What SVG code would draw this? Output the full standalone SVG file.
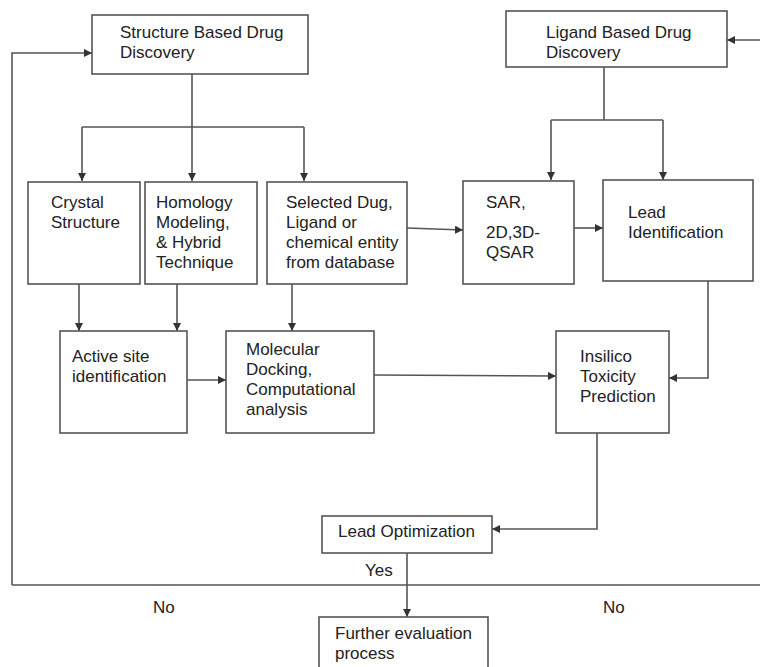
<svg xmlns="http://www.w3.org/2000/svg" width="760" height="667" viewBox="0 0 760 667">
<defs>
<marker id="arr" markerUnits="userSpaceOnUse" markerWidth="9" markerHeight="8" refX="8" refY="4" orient="auto">
<path d="M0,0 L8,4 L0,8 z" fill="#333"/>
</marker>
<style>
.box{fill:#fff;stroke:#555;stroke-width:1.6}
.ln{fill:none;stroke:#555;stroke-width:1.6}
.ar{fill:none;stroke:#555;stroke-width:1.6;marker-end:url(#arr)}
text{font-family:"Liberation Sans",Arial,sans-serif;font-size:17px;fill:#222}
</style>
</defs>
<rect width="760" height="667" fill="#fff"/>
<g id="connectors">
<polyline class="ar" points="12,585 12,53 92,53"/>
<line class="ln" x1="12" y1="585" x2="760" y2="585"/>
<line class="ar" x1="760" y1="40" x2="727" y2="40"/>
<line class="ar" x1="192" y1="74" x2="192" y2="181"/>
<line class="ln" x1="82" y1="127" x2="304" y2="127"/>
<line class="ar" x1="82" y1="127" x2="82" y2="181"/>
<line class="ar" x1="304" y1="127" x2="304" y2="181"/>
<line class="ln" x1="604" y1="67" x2="604" y2="120"/>
<line class="ln" x1="551" y1="120" x2="663" y2="120"/>
<line class="ar" x1="551" y1="120" x2="551" y2="180"/>
<line class="ar" x1="663" y1="120" x2="663" y2="180"/>
<line class="ar" x1="407" y1="228" x2="463" y2="230"/>
<line class="ar" x1="574" y1="228" x2="603" y2="228"/>
<line class="ar" x1="79" y1="284" x2="79" y2="331"/>
<line class="ar" x1="177" y1="284" x2="177" y2="331"/>
<line class="ar" x1="292" y1="284" x2="292" y2="331"/>
<line class="ar" x1="187" y1="380" x2="226" y2="380"/>
<line class="ar" x1="374" y1="375" x2="556" y2="376"/>
<polyline class="ar" points="708,281 708,378 669,378"/>
<polyline class="ar" points="597,433 597,529 492,529"/>
<line class="ar" x1="407" y1="553" x2="407" y2="617"/>
<text x="365" y="576">Yes</text>
<text x="153" y="613">No</text>
<text x="603" y="613">No</text>
</g>
<g id="sbdd">
<rect class="box" x="92" y="15" width="216" height="59"/>
<text x="120" y="38">Structure Based Drug</text>
<text x="120" y="58">Discovery</text>
</g>
<g id="lbdd">
<rect class="box" x="506" y="11" width="221" height="56"/>
<text x="546" y="38">Ligand Based Drug</text>
<text x="546" y="58">Discovery</text>
</g>
<g id="crystal">
<rect class="box" x="28" y="182" width="112" height="102"/>
<text x="51" y="208">Crystal</text>
<text x="51" y="228">Structure</text>
</g>
<g id="homology">
<rect class="box" x="145" y="182" width="112" height="102"/>
<text x="156" y="208">Homology</text>
<text x="156" y="228">Modeling,</text>
<text x="156" y="248">&amp; Hybrid</text>
<text x="156" y="268">Technique</text>
</g>
<g id="selected">
<rect class="box" x="267" y="182" width="140" height="102"/>
<text x="286" y="208">Selected Dug,</text>
<text x="286" y="228">Ligand or</text>
<text x="286" y="248">chemical entity</text>
<text x="286" y="268">from database</text>
</g>
<g id="sar">
<rect class="box" x="463" y="181" width="111" height="103"/>
<text x="486" y="208">SAR,</text>
<text x="486" y="238">2D,3D-</text>
<text x="486" y="258">QSAR</text>
</g>
<g id="lead-identification">
<rect class="box" x="603" y="180" width="150" height="101"/>
<text x="628" y="218">Lead</text>
<text x="628" y="238">Identification</text>
</g>
<g id="active-site">
<rect class="box" x="60" y="331" width="127" height="102"/>
<text x="72" y="362">Active site</text>
<text x="72" y="382">identification</text>
</g>
<g id="molecular-docking">
<rect class="box" x="226" y="331" width="148" height="102"/>
<text x="246" y="355">Molecular</text>
<text x="246" y="375">Docking,</text>
<text x="246" y="395">Computational</text>
<text x="246" y="415">analysis</text>
</g>
<g id="insilico">
<rect class="box" x="556" y="331" width="113" height="102"/>
<text x="580" y="362">Insilico</text>
<text x="580" y="382">Toxicity</text>
<text x="580" y="402">Prediction</text>
</g>
<g id="lead-optimization">
<rect class="box" x="322" y="516" width="170" height="37"/>
<text x="338" y="537">Lead Optimization</text>
</g>
<g id="further-evaluation">
<rect class="box" x="319" y="617" width="169" height="60"/>
<text x="335" y="639">Further evaluation</text>
<text x="335" y="659">process</text>
</g>
</svg>
